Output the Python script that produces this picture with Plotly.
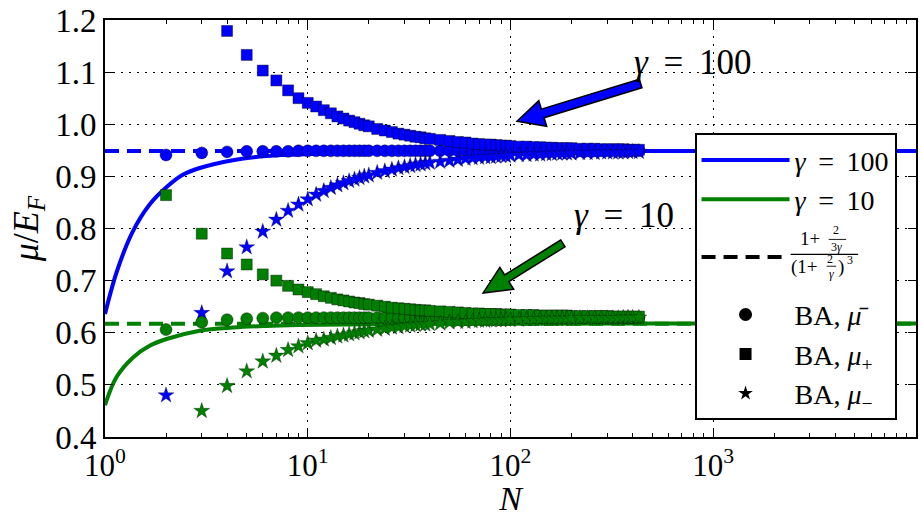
import math
import plotly.graph_objects as go

# ---------------- data ----------------
N_BA = [2, 3, 4, 5, 6, 7, 8, 9, 10, 11, 12, 13, 14, 15, 16, 17, 18, 19, 20,
        22, 24, 26, 28, 30, 32, 34, 36, 38, 40,
        45, 50, 55, 60, 65, 70, 75, 80, 85, 90, 95, 100,
        110, 120, 130, 140, 150, 160, 170, 180, 190, 200,
        220, 240, 260, 280, 300, 320, 340, 360, 380, 400, 430]

# gamma = 100
mu_bar_100 = [0.941, 0.945, 0.947, 0.948, 0.948, 0.948, 0.948, 0.949, 0.949, 0.949,
              0.949, 0.949, 0.949, 0.949, 0.949, 0.949, 0.949, 0.949, 0.949,
              0.949, 0.949, 0.949, 0.949, 0.949, 0.949, 0.949, 0.949, 0.949, 0.949,
              0.949, 0.949, 0.949, 0.949, 0.949, 0.949, 0.949, 0.949, 0.949, 0.949, 0.949, 0.949,
              0.949, 0.949, 0.949, 0.949, 0.949, 0.949, 0.949, 0.949, 0.949, 0.949,
              0.949, 0.949, 0.949, 0.949, 0.949, 0.949, 0.949, 0.949, 0.949, 0.949, 0.949]
mu_plus_100 = [None, None, 1.179, 1.133, 1.103, 1.084, 1.065, 1.050, 1.041, 1.034,
               1.027, 1.021, 1.015, 1.011, 1.007, 1.004, 1.001, 0.998, 0.996,
               0.991, 0.988, 0.985, 0.982, 0.980, 0.978, 0.976, 0.975, 0.973, 0.972,
               0.970, 0.968, 0.966, 0.965, 0.963, 0.962, 0.961, 0.961, 0.960, 0.959, 0.959, 0.958,
               0.957, 0.957, 0.956, 0.956, 0.955, 0.955, 0.954, 0.954, 0.954, 0.954,
               0.953, 0.953, 0.953, 0.952, 0.952, 0.952, 0.952, 0.952, 0.951, 0.951, 0.951]
mu_minus_100 = [0.480, 0.638, 0.718, 0.764, 0.794, 0.817, 0.834, 0.846, 0.856, 0.865,
                0.872, 0.878, 0.883, 0.887, 0.891, 0.894, 0.897, 0.900, 0.902,
                0.907, 0.910, 0.913, 0.916, 0.918, 0.920, 0.922, 0.923, 0.925, 0.926,
                0.928, 0.930, 0.932, 0.934, 0.935, 0.936, 0.937, 0.937, 0.938, 0.939, 0.939, 0.940,
                0.941, 0.941, 0.942, 0.942, 0.943, 0.943, 0.944, 0.944, 0.944, 0.944,
                0.945, 0.945, 0.945, 0.946, 0.946, 0.946, 0.946, 0.946, 0.947, 0.947, 0.947]

# gamma = 10
mu_bar_10 = [0.606, 0.620, 0.625, 0.627, 0.628, 0.629, 0.629, 0.629, 0.629, 0.629,
             0.629, 0.629, 0.629, 0.629, 0.629, 0.629, 0.629, 0.629, 0.629,
             0.629, 0.629, 0.629, 0.629, 0.629, 0.629, 0.629, 0.629, 0.629, 0.629,
             0.629, 0.629, 0.629, 0.629, 0.629, 0.629, 0.629, 0.629, 0.629, 0.629, 0.629, 0.629,
             0.629, 0.629, 0.629, 0.629, 0.629, 0.629, 0.629, 0.629, 0.629, 0.629,
             0.629, 0.629, 0.629, 0.629, 0.629, 0.629, 0.629, 0.629, 0.629, 0.629, 0.629]
mu_plus_10 = [0.864, 0.790, 0.752, 0.731, 0.712, 0.700, 0.690, 0.683, 0.678, 0.674,
              0.670, 0.667, 0.664, 0.662, 0.660, 0.658, 0.657, 0.655, 0.654,
              0.652, 0.650, 0.648, 0.647, 0.646, 0.645, 0.644, 0.643, 0.643, 0.642,
              0.641, 0.640, 0.639, 0.638, 0.637, 0.637, 0.636, 0.636, 0.636, 0.635, 0.635, 0.635,
              0.634, 0.634, 0.634, 0.633, 0.633, 0.633, 0.633, 0.633, 0.633, 0.632,
              0.632, 0.632, 0.632, 0.632, 0.632, 0.631, 0.631, 0.631, 0.631, 0.631, 0.631]
mu_minus_10 = [None, 0.450, 0.498, 0.526, 0.545, 0.556, 0.567, 0.574, 0.580, 0.585,
               0.587, 0.590, 0.593, 0.595, 0.597, 0.599, 0.601, 0.603, 0.604,
               0.606, 0.608, 0.610, 0.611, 0.613, 0.614, 0.615, 0.616, 0.616, 0.617,
               0.618, 0.620, 0.621, 0.621, 0.622, 0.623, 0.623, 0.624, 0.624, 0.624, 0.625, 0.625,
               0.625, 0.626, 0.626, 0.626, 0.627, 0.627, 0.627, 0.627, 0.627, 0.627,
               0.628, 0.628, 0.628, 0.628, 0.628, 0.628, 0.628, 0.629, 0.629, 0.629, 0.629]

# continuous curves
N_curve_100 = [1, 1.145, 1.37, 1.66, 2.02, 2.42, 2.93, 4.27, 6.27, 9.1, 15, 30, 100, 1000, 10000]
mu_curve_100 = [0.636, 0.718, 0.794, 0.846, 0.880, 0.903, 0.916, 0.931, 0.939, 0.942,
                0.945, 0.947, 0.948, 0.9486, 0.9486]
N_curve_10 = [1, 1.14, 1.38, 1.66, 2.01, 2.93, 4.28, 6.25, 9.1, 15, 30, 100, 1000, 10000]
mu_curve_10 = [0.461, 0.515, 0.553, 0.575, 0.588, 0.604, 0.610, 0.613, 0.6147,
               0.616, 0.617, 0.6175, 0.6177, 0.6177]

# asymptote (1 + 2/(3g)) / (1 + 2/g)^3
N_asym = [1, 10000]
asym_100 = [0.9486, 0.9486]
asym_10 = [0.6173, 0.6173]

x_tickvals = [1, 10, 100, 1000]
x_ticktext = ["10<sup>0</sup>", "10<sup>1</sup>", "10<sup>2</sup>", "10<sup>3</sup>"]
x_minor = [m * 10 ** d for d in range(4) for m in range(2, 10)]
y_tickvals = [0.4, 0.5, 0.6, 0.7, 0.8, 0.9, 1.0, 1.1, 1.2]

BLUE = "#0000ff"
GREEN = "#008000"
FONT = "Liberation Serif"
TS = "&#8201;"  # thin space

# ---------------- layout geometry ----------------
W, H = 921, 517
ML, MR, MT, MB = 105, 3, 17, 80
PW, PH = W - ML - MR, H - MT - MB


def to_paper(px, py):
    return (px - ML) / PW, (MT + PH - py) / PH


def arrow_path(tip, tail, half_shaft, half_head, head_len):
    dx, dy = tip[0] - tail[0], tip[1] - tail[1]
    L = math.hypot(dx, dy)
    ux, uy = dx / L, dy / L
    nx, ny = -uy, ux
    neck = (tip[0] - ux * head_len, tip[1] - uy * head_len)
    pts = [
        (tail[0] + nx * half_shaft, tail[1] + ny * half_shaft),
        (neck[0] + nx * half_shaft, neck[1] + ny * half_shaft),
        (neck[0] + nx * half_head, neck[1] + ny * half_head),
        tip,
        (neck[0] - nx * half_head, neck[1] - ny * half_head),
        (neck[0] - nx * half_shaft, neck[1] - ny * half_shaft),
        (tail[0] - nx * half_shaft, tail[1] - ny * half_shaft),
    ]
    pp = [to_paper(*p) for p in pts]
    return "M " + " L ".join(f"{x:.4f},{y:.4f}" for x, y in pp) + " Z"


fig = go.Figure()

# solid curves
fig.add_trace(go.Scatter(x=N_curve_100, y=mu_curve_100, mode="lines", line=dict(color=BLUE, width=4, shape="spline"),
                         name=f"<i>γ</i>{TS} = {TS}100"))
fig.add_trace(go.Scatter(x=N_curve_10, y=mu_curve_10, mode="lines", line=dict(color=GREEN, width=4, shape="spline"),
                         name=f"<i>γ</i>{TS} = {TS}10"))
# asymptotes
fig.add_trace(go.Scatter(x=N_asym, y=asym_100, mode="lines", line=dict(color=BLUE, width=4, dash="14px,8px"),
                         showlegend=False))
fig.add_trace(go.Scatter(x=N_asym, y=asym_10, mode="lines", line=dict(color=GREEN, width=4, dash="14px,8px"),
                         showlegend=False))

# markers
for col, yb, yp, ym in [(BLUE, mu_bar_100, mu_plus_100, mu_minus_100),
                        (GREEN, mu_bar_10, mu_plus_10, mu_minus_10)]:
    fig.add_trace(go.Scatter(x=N_BA, y=yb, mode="markers", showlegend=False,
                             marker=dict(symbol="circle", size=12, color=col, line=dict(color="#000", width=0.4))))
    fig.add_trace(go.Scatter(x=N_BA, y=yp, mode="markers", showlegend=False,
                             marker=dict(symbol="square", size=11, color=col, line=dict(color="#000", width=0.4))))
    fig.add_trace(go.Scatter(x=N_BA, y=ym, mode="markers", showlegend=False,
                             marker=dict(symbol="star", size=12, color=col, line=dict(color="#000", width=0.3))))

# legend-only entries (fraction label drawn by annotations below)
fig.add_trace(go.Scatter(x=[None], y=[None], mode="lines", line=dict(color="black", width=4, dash="14px,8px"),
                         name="&nbsp;<br>&nbsp;"))
fig.add_trace(go.Scatter(x=[None], y=[None], mode="markers", marker=dict(symbol="circle", size=13, color="black"),
                         name="BA, <i>μ̄</i>"))
fig.add_trace(go.Scatter(x=[None], y=[None], mode="markers", marker=dict(symbol="square", size=12, color="black"),
                         name="BA, <i>μ</i><sub>+</sub>"))
fig.add_trace(go.Scatter(x=[None], y=[None], mode="markers", marker=dict(symbol="star", size=11, color="black"),
                         name="BA, <i>μ</i><sub>−</sub>"))

shapes = [
    dict(type="path", xref="paper", yref="paper",
         path=arrow_path((518, 119), (642, 81), 4.5, 13.5, 27),
         fillcolor=BLUE, line=dict(color="black", width=1.5)),
    dict(type="path", xref="paper", yref="paper",
         path=arrow_path((484, 292), (564, 242), 4.0, 13, 28),
         fillcolor=GREEN, line=dict(color="black", width=1.5)),
]


def txt(px, py, text, size, anchor="center"):
    x, y = to_paper(px, py)
    return dict(xref="paper", yref="paper", x=x, y=y, xanchor=anchor, yanchor="middle",
                text=text, showarrow=False, font=dict(family=FONT, size=size, color="black"))


def bar(px0, px1, py, width=1.2):
    x, y = to_paper(px1, py)
    return dict(xref="paper", yref="paper", x=x, y=y, ax=-(px1 - px0), ay=0, axref="pixel", ayref="pixel",
                text="", showarrow=True, arrowhead=0, arrowwidth=width, arrowcolor="black", standoff=0,
                startstandoff=0)


annotations = [
    txt(633, 60, f"<i>γ</i>{TS} = {TS}100", 35, "left"),
    txt(573, 214, f"<i>γ</i>{TS} = {TS}10", 35, "left"),
    # legend fraction (1 + 2/(3γ)) / (1 + 2/γ)^3
    txt(812, 237, "1+", 19),
    txt(838, 229, "2", 12),
    bar(829, 848, 238, 0.9),
    txt(838, 246, "3<i>γ</i>", 12),
    bar(791, 860, 253, 1.2),
    txt(806, 266, "(1+", 19),
    txt(832, 258, "2", 12),
    bar(827, 838, 265, 0.9),
    txt(833, 273, "<i>γ</i>", 12),
    txt(843, 266, ")", 19),
    txt(852, 259, "3", 12),
]

lx, ly = to_paper(696, 131)

fig.update_layout(
    width=W, height=H,
    margin=dict(l=ML, r=MR, t=MT, b=MB),
    paper_bgcolor="white", plot_bgcolor="white",
    font=dict(family=FONT, size=32, color="black"),
    shapes=shapes, annotations=annotations,
    legend=dict(x=lx, y=ly, xanchor="left", yanchor="top",
                bgcolor="white", bordercolor="black", borderwidth=2,
                font=dict(family=FONT, size=28, color="black"),
                tracegroupgap=0, itemwidth=88),
    xaxis=dict(type="log", range=[0, 4.0],
               tickvals=x_tickvals, ticktext=x_ticktext,
               ticks="inside", ticklen=8, tickwidth=1, tickcolor="black",
               minor=dict(tickvals=x_minor, ticks="inside", ticklen=4, tickcolor="black", showgrid=False),
               showline=True, linecolor="black", linewidth=2, mirror="ticks",
               showgrid=True, gridcolor="black", gridwidth=1, griddash="2px,6px",
               zeroline=False, ticklabeloverflow="allow",
               tickfont=dict(family=FONT, size=31),
               title=dict(text="<i>N</i>", font=dict(family=FONT, size=34), standoff=6)),
    yaxis=dict(range=[0.4, 1.2], tickvals=y_tickvals, tickformat=".1f",
               ticks="inside", ticklen=8, tickwidth=1, tickcolor="black",
               showline=True, linecolor="black", linewidth=2, mirror="ticks",
               showgrid=True, gridcolor="black", gridwidth=1, griddash="2px,6px",
               zeroline=False, ticklabeloverflow="allow",
               tickfont=dict(family=FONT, size=33),
               title=dict(text="<i>μ</i>/<i>E</i><sub><i>F</i></sub>", font=dict(family=FONT, size=36), standoff=6)),
)

fig.write_html("out.html")
